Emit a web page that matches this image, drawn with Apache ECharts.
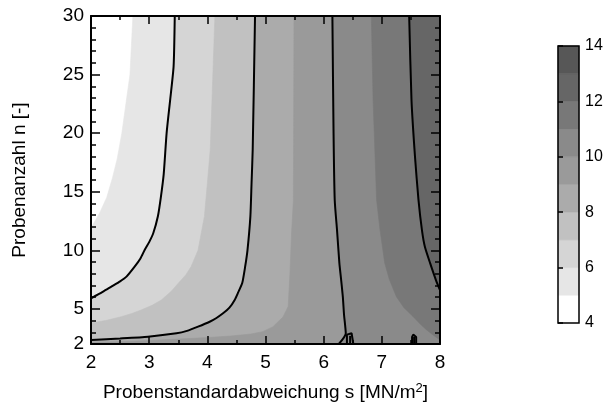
<!DOCTYPE html>
<html>
<head>
<meta charset="utf-8">
<script src="https://cdn.jsdelivr.net/npm/echarts@6/dist/echarts.min.js"></script>
<style>
  html, body { margin: 0; padding: 0; background: #fff; }
  #app { width: 612px; height: 409px; }
</style>
</head>
<body>
<div id="app"></div>
<script>
// contour boundaries as [s, n] points, top edge first
const level5 = [[2.72, 30], [2.67, 25], [2.6, 22.5], [2.53, 20], [2.45, 17.8], [2.37, 16.2], [2.27, 14.5], [2.15, 13.2], [2.07, 12.5], [2, 11.9]];
const level6 = [[3.44, 30], [3.42, 25.7], [3.36, 22.8], [3.3, 20], [3.25, 16.5], [3.2, 14.5], [3.15, 12.9], [3.07, 11.45], [3.0, 10.7], [2.92, 10], [2.85, 9.3], [2.75, 8.6], [2.61, 7.75], [2.5, 7.35], [2.35, 6.9], [2.2, 6.45], [2, 5.9]];
const level7 = [[4.13, 30], [4.08, 22.8], [4.05, 18.6], [4.0, 15.7], [3.95, 12.9], [3.84, 10], [3.72, 8.6], [3.63, 7.9], [3.52, 7.3], [3.38, 6.5], [3.21, 5.76], [3.05, 5.3], [2.86, 4.9], [2.7, 4.6], [2.52, 4.33], [2.25, 4.0], [2, 3.8]];
const level8 = [[4.82, 30], [4.78, 18.6], [4.76, 15.7], [4.74, 12.9], [4.69, 10], [4.65, 8.6], [4.6, 7.2], [4.53, 6.4], [4.47, 5.76], [4.38, 5.1], [4.27, 4.62], [4.15, 4.2], [4.04, 3.9], [3.84, 3.48], [3.65, 3.12], [3.47, 2.91], [2.98, 2.62], [2.5, 2.47], [2, 2.34]];
const level9 = [[5.49, 30], [5.48, 14.3], [5.45, 11.7], [5.42, 8], [5.39, 5.2], [5.3, 4.3], [5.13, 3.48], [4.95, 3.05], [4.75, 2.85], [4.4, 2.68], [4.0, 2.55], [3.5, 2.42], [3.0, 2.3], [2.5, 2.2], [2, 2.12]];
const level10 = [[6.15, 30], [6.17, 20], [6.19, 14.3], [6.23, 11.7], [6.27, 8.9], [6.3, 7.5], [6.33, 6], [6.35, 4.5], [6.38, 2.9], [6.26, 2]];
const level11 = [[6.82, 30], [6.85, 22.8], [6.91, 14.3], [6.97, 11.7], [7.05, 8.9], [7.13, 7.5], [7.25, 6.04], [7.38, 5.1], [7.54, 4.33], [7.66, 3.7], [7.77, 3.2], [7.9, 2.7], [8, 2.35]];
const level12 = [[7.47, 30], [7.51, 22.8], [7.57, 18], [7.63, 14.3], [7.69, 11.7], [7.74, 10.3], [7.83, 8.9], [7.93, 7.46], [8, 6.6]];

// small closed contour pieces at the bottom edge
const blobA = [[6.4, 2], [6.4, 2.8], [6.43, 2.92], [6.48, 2.92], [6.51, 2.75], [6.51, 2]];
const blobAInner = [[6.455, 2], [6.455, 2.7]];
const blobB = [[7.52, 2], [7.52, 2.6], [7.54, 2.8], [7.57, 2.8], [7.59, 2.6], [7.59, 2]];
const blobBInner = [[7.555, 2], [7.555, 2.6]];

const fillCurves = [level5, level6, level7, level8, level9, level10, level11, level12];
const lineCurves = [level6, level8, level10, level12];
const blobCurves = [blobA, blobAInner, blobB, blobBInner];

// colour bar: band from value v to v+1
const barLevels = [4, 5, 6, 7, 8, 9, 10, 11, 12, 13];
const bandColors = ['#ffffff', '#e6e6e6', '#d5d5d5', '#c1c1c1', '#ababab', '#9a9a9a', '#8a8a8a', '#787878', '#666666', '#575757'];

const font = 'Liberation Sans, Arial, sans-serif';

// close the region right of a boundary along the plot edges
function closeShape(curve) {
  const pts = curve.slice();
  const last = curve[curve.length - 1];
  if (last[0] <= 2) pts.push([2, 2]);
  if (last[1] <= 2 || last[0] <= 2) pts.push([8, 2]);
  pts.push([8, 30]);
  return pts;
}

const series = [];

fillCurves.forEach((curve, i) => {
  series.push({
    type: 'custom',
    xAxisIndex: 0,
    yAxisIndex: 0,
    silent: true,
    clip: true,
    z: 1,
    data: [[2, 2]],
    renderItem: (params, api) => ({
      type: 'polygon',
      shape: { points: closeShape(curve).map((p) => api.coord(p)) },
      style: { fill: bandColors[i + 1], stroke: bandColors[i + 1], lineWidth: 0.6 }
    })
  });
});

lineCurves.forEach((curve) => {
  series.push({
    type: 'line',
    xAxisIndex: 0,
    yAxisIndex: 0,
    data: curve,
    showSymbol: false,
    silent: true,
    smooth: 0.2,
    z: 3,
    lineStyle: { color: '#000', width: 2 }
  });
});

blobCurves.forEach((curve) => {
  series.push({
    type: 'line',
    xAxisIndex: 0,
    yAxisIndex: 0,
    data: curve,
    showSymbol: false,
    silent: true,
    z: 3,
    lineStyle: { color: '#000', width: 2 }
  });
});

// colour bar
series.push({
  type: 'custom',
  xAxisIndex: 2,
  yAxisIndex: 4,
  silent: true,
  data: barLevels.map((v) => [0, v]),
  renderItem: (params, api) => {
    const v = api.value(1);
    const p0 = api.coord([0, v + 1]);
    const p1 = api.coord([1, v]);
    return {
      type: 'rect',
      shape: { x: p0[0], y: p0[1], width: p1[0] - p0[0], height: p1[1] - p0[1] },
      style: { fill: bandColors[params.dataIndex], stroke: bandColors[params.dataIndex], lineWidth: 0.5 }
    };
  }
});

const axisLine = { show: true, lineStyle: { color: '#000', width: 2 } };
const tickLabel = { color: '#000', fontSize: 19, fontFamily: font };

const myChart = echarts.init(document.getElementById('app'));
const option = {
  animation: false,
  backgroundColor: '#fff',
  grid: [
    { left: 91, top: 16, width: 349, height: 328, show: true, backgroundColor: '#fff', borderWidth: 0 },
    { left: 558, top: 46, width: 21, height: 277, show: true, borderColor: '#000', borderWidth: 1.5, z: 5 }
  ],
  xAxis: [
    {
      type: 'value', gridIndex: 0, position: 'bottom', min: 2, max: 8, interval: 1,
      axisLine: axisLine,
      axisTick: { inside: true, length: 8, lineStyle: { color: '#000', width: 1.5 } },
      minorTick: { show: true, splitNumber: 2, length: 4, lineStyle: { color: '#000', width: 1.5 } },
      splitLine: { show: false },
      axisLabel: Object.assign({ margin: 9 }, tickLabel),
      name: 'Probenstandardabweichung s [MN/m{sup|2}]',
      nameLocation: 'middle',
      nameGap: 38,
      nameTextStyle: {
        color: '#000', fontSize: 19, fontFamily: font,
        rich: { sup: { fontSize: 13, verticalAlign: 'top', padding: [0, 0, 9, 0], color: '#000', fontFamily: font } }
      },
      z: 10
    },
    {
      type: 'value', gridIndex: 0, position: 'top', min: 2, max: 8, interval: 1,
      axisLine: axisLine,
      axisTick: { inside: true, length: 8, lineStyle: { color: '#000', width: 1.5 } },
      minorTick: { show: true, splitNumber: 2, length: 4, lineStyle: { color: '#000', width: 1.5 } },
      splitLine: { show: false },
      axisLabel: { show: false },
      z: 10
    },
    {
      type: 'value', gridIndex: 1, min: 0, max: 1, show: false
    }
  ],
  yAxis: [
    {
      type: 'value', gridIndex: 0, position: 'left', min: 2, max: 30, interval: 1,
      axisLine: axisLine,
      axisTick: { inside: true, length: 5, lineStyle: { color: '#000', width: 1.5 } },
      splitLine: { show: false },
      axisLabel: Object.assign({
        margin: 7,
        formatter: (v) => ([2, 5, 10, 15, 20, 25, 30].includes(v) ? String(v) : '')
      }, tickLabel),
      name: 'Probenanzahl n [-]',
      nameLocation: 'middle',
      nameGap: 62,
      nameTextStyle: { color: '#000', fontSize: 19, fontFamily: font },
      z: 10
    },
    {
      type: 'value', gridIndex: 0, position: 'left', min: 2, max: 30,
      axisLine: { show: false },
      axisTick: { inside: true, length: 9, customValues: [5, 10, 15, 20, 25], lineStyle: { color: '#000', width: 1.5 } },
      axisLabel: { show: false },
      splitLine: { show: false },
      z: 10
    },
    {
      type: 'value', gridIndex: 0, position: 'right', min: 2, max: 30, interval: 1,
      axisLine: axisLine,
      axisTick: { inside: true, length: 5, lineStyle: { color: '#000', width: 1.5 } },
      axisLabel: { show: false },
      splitLine: { show: false },
      z: 10
    },
    {
      type: 'value', gridIndex: 0, position: 'right', min: 2, max: 30,
      axisLine: { show: false },
      axisTick: { inside: true, length: 9, customValues: [5, 10, 15, 20, 25], lineStyle: { color: '#000', width: 1.5 } },
      axisLabel: { show: false },
      splitLine: { show: false },
      z: 10
    },
    {
      type: 'value', gridIndex: 1, position: 'right', min: 4, max: 14, interval: 2,
      axisLine: { show: false },
      axisTick: { inside: false, length: 5, lineStyle: { color: '#000', width: 1.5 } },
      axisLabel: { color: '#000', fontSize: 16, fontFamily: font, margin: 6 },
      splitLine: { show: false },
      z: 10
    }
  ],
  series: series
};

myChart.setOption(option);
</script>
</body>
</html>
